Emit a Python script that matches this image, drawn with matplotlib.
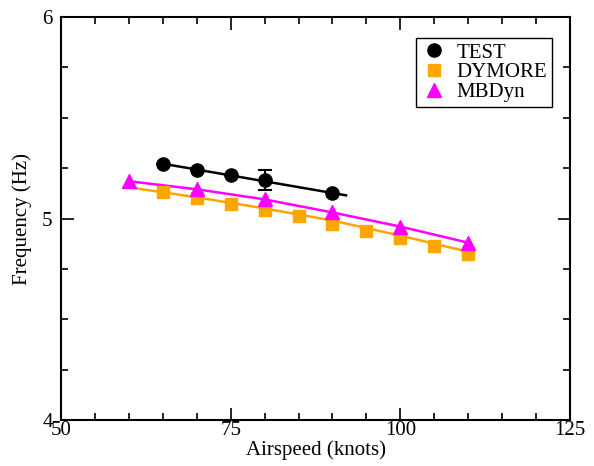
import matplotlib
matplotlib.use("Agg")
import matplotlib.pyplot as plt
from matplotlib.ticker import MultipleLocator

plt.rcParams["font.family"] = ["Liberation Serif", "DejaVu Serif"]
plt.rcParams["font.size"] = 15

# Measured test points (with scatter on the 80 kt point)
test_x = [65, 70, 75, 80, 90]
test_y = [5.27, 5.24, 5.215, 5.19, 5.125]
test_err = [0, 0, 0, 0.05, 0]
test_fit_x = [65, 92]
test_fit_y = [5.272, 5.115]

# DYMORE predictions
dymore_x = [65, 70, 75, 80, 85, 90, 95, 100, 105, 110]
dymore_y = [5.13, 5.10, 5.07, 5.04, 5.01, 4.975, 4.94, 4.905, 4.865, 4.825]
dymore_fit_x = [60, 70, 80, 90, 100, 110]
dymore_fit_y = [5.155, 5.105, 5.05, 4.99, 4.915, 4.835]

# MBDyn predictions
mbdyn_x = [60, 70, 80, 90, 100, 110]
mbdyn_y = [5.185, 5.145, 5.095, 5.03, 4.96, 4.88]

fig = plt.figure(figsize=(5.94, 4.66), dpi=100)
ax = fig.add_axes([0.1027, 0.0987, 0.8569, 0.8648])

ax.plot(test_fit_x, test_fit_y, color="black", lw=1.8)
ax.plot(dymore_fit_x, dymore_fit_y, color="#FFA500", lw=1.8)
ax.plot(mbdyn_x, mbdyn_y, color="#FF00FF", lw=1.8)

ax.errorbar(test_x, test_y, yerr=test_err, fmt="none", ecolor="black",
            elinewidth=1.5, capsize=5, capthick=1.5)
h_test, = ax.plot(test_x, test_y, "o", color="black", ms=9.5, ls="none", label="TEST")
h_dym, = ax.plot(dymore_x, dymore_y, "s", color="#FFA500", ms=8, ls="none", label="DYMORE")
h_mbd, = ax.plot(mbdyn_x, mbdyn_y, "^", color="#FF00FF", ms=9.5, ls="none", label="MBDyn")

ax.set_xlim(50, 125)
ax.set_ylim(4, 6)
ax.xaxis.set_major_locator(MultipleLocator(25))
ax.xaxis.set_minor_locator(MultipleLocator(5))
ax.yaxis.set_major_locator(MultipleLocator(1))
ax.yaxis.set_minor_locator(MultipleLocator(0.25))
ax.tick_params(which="both", direction="in", top=True, right=True, width=1.2)
ax.tick_params(which="major", length=9)
ax.tick_params(which="minor", length=5)
ax.tick_params(axis="x", pad=1)
ax.tick_params(axis="y", pad=6)
for s in ax.spines.values():
    s.set_linewidth(1.5)

ax.set_xlabel("Airspeed (knots)", labelpad=0)
ax.set_ylabel("Frequency (Hz)", labelpad=7)

leg = ax.legend(handles=[h_test, h_dym, h_mbd], loc="upper right",
                bbox_to_anchor=(0.965, 0.948), borderaxespad=0, fancybox=False,
                edgecolor="black", handletextpad=0.4, borderpad=0.25,
                labelspacing=0.0, handlelength=1.3, framealpha=1)
leg.get_frame().set_linewidth(1.0)

fig.savefig("out.png", dpi=100)
